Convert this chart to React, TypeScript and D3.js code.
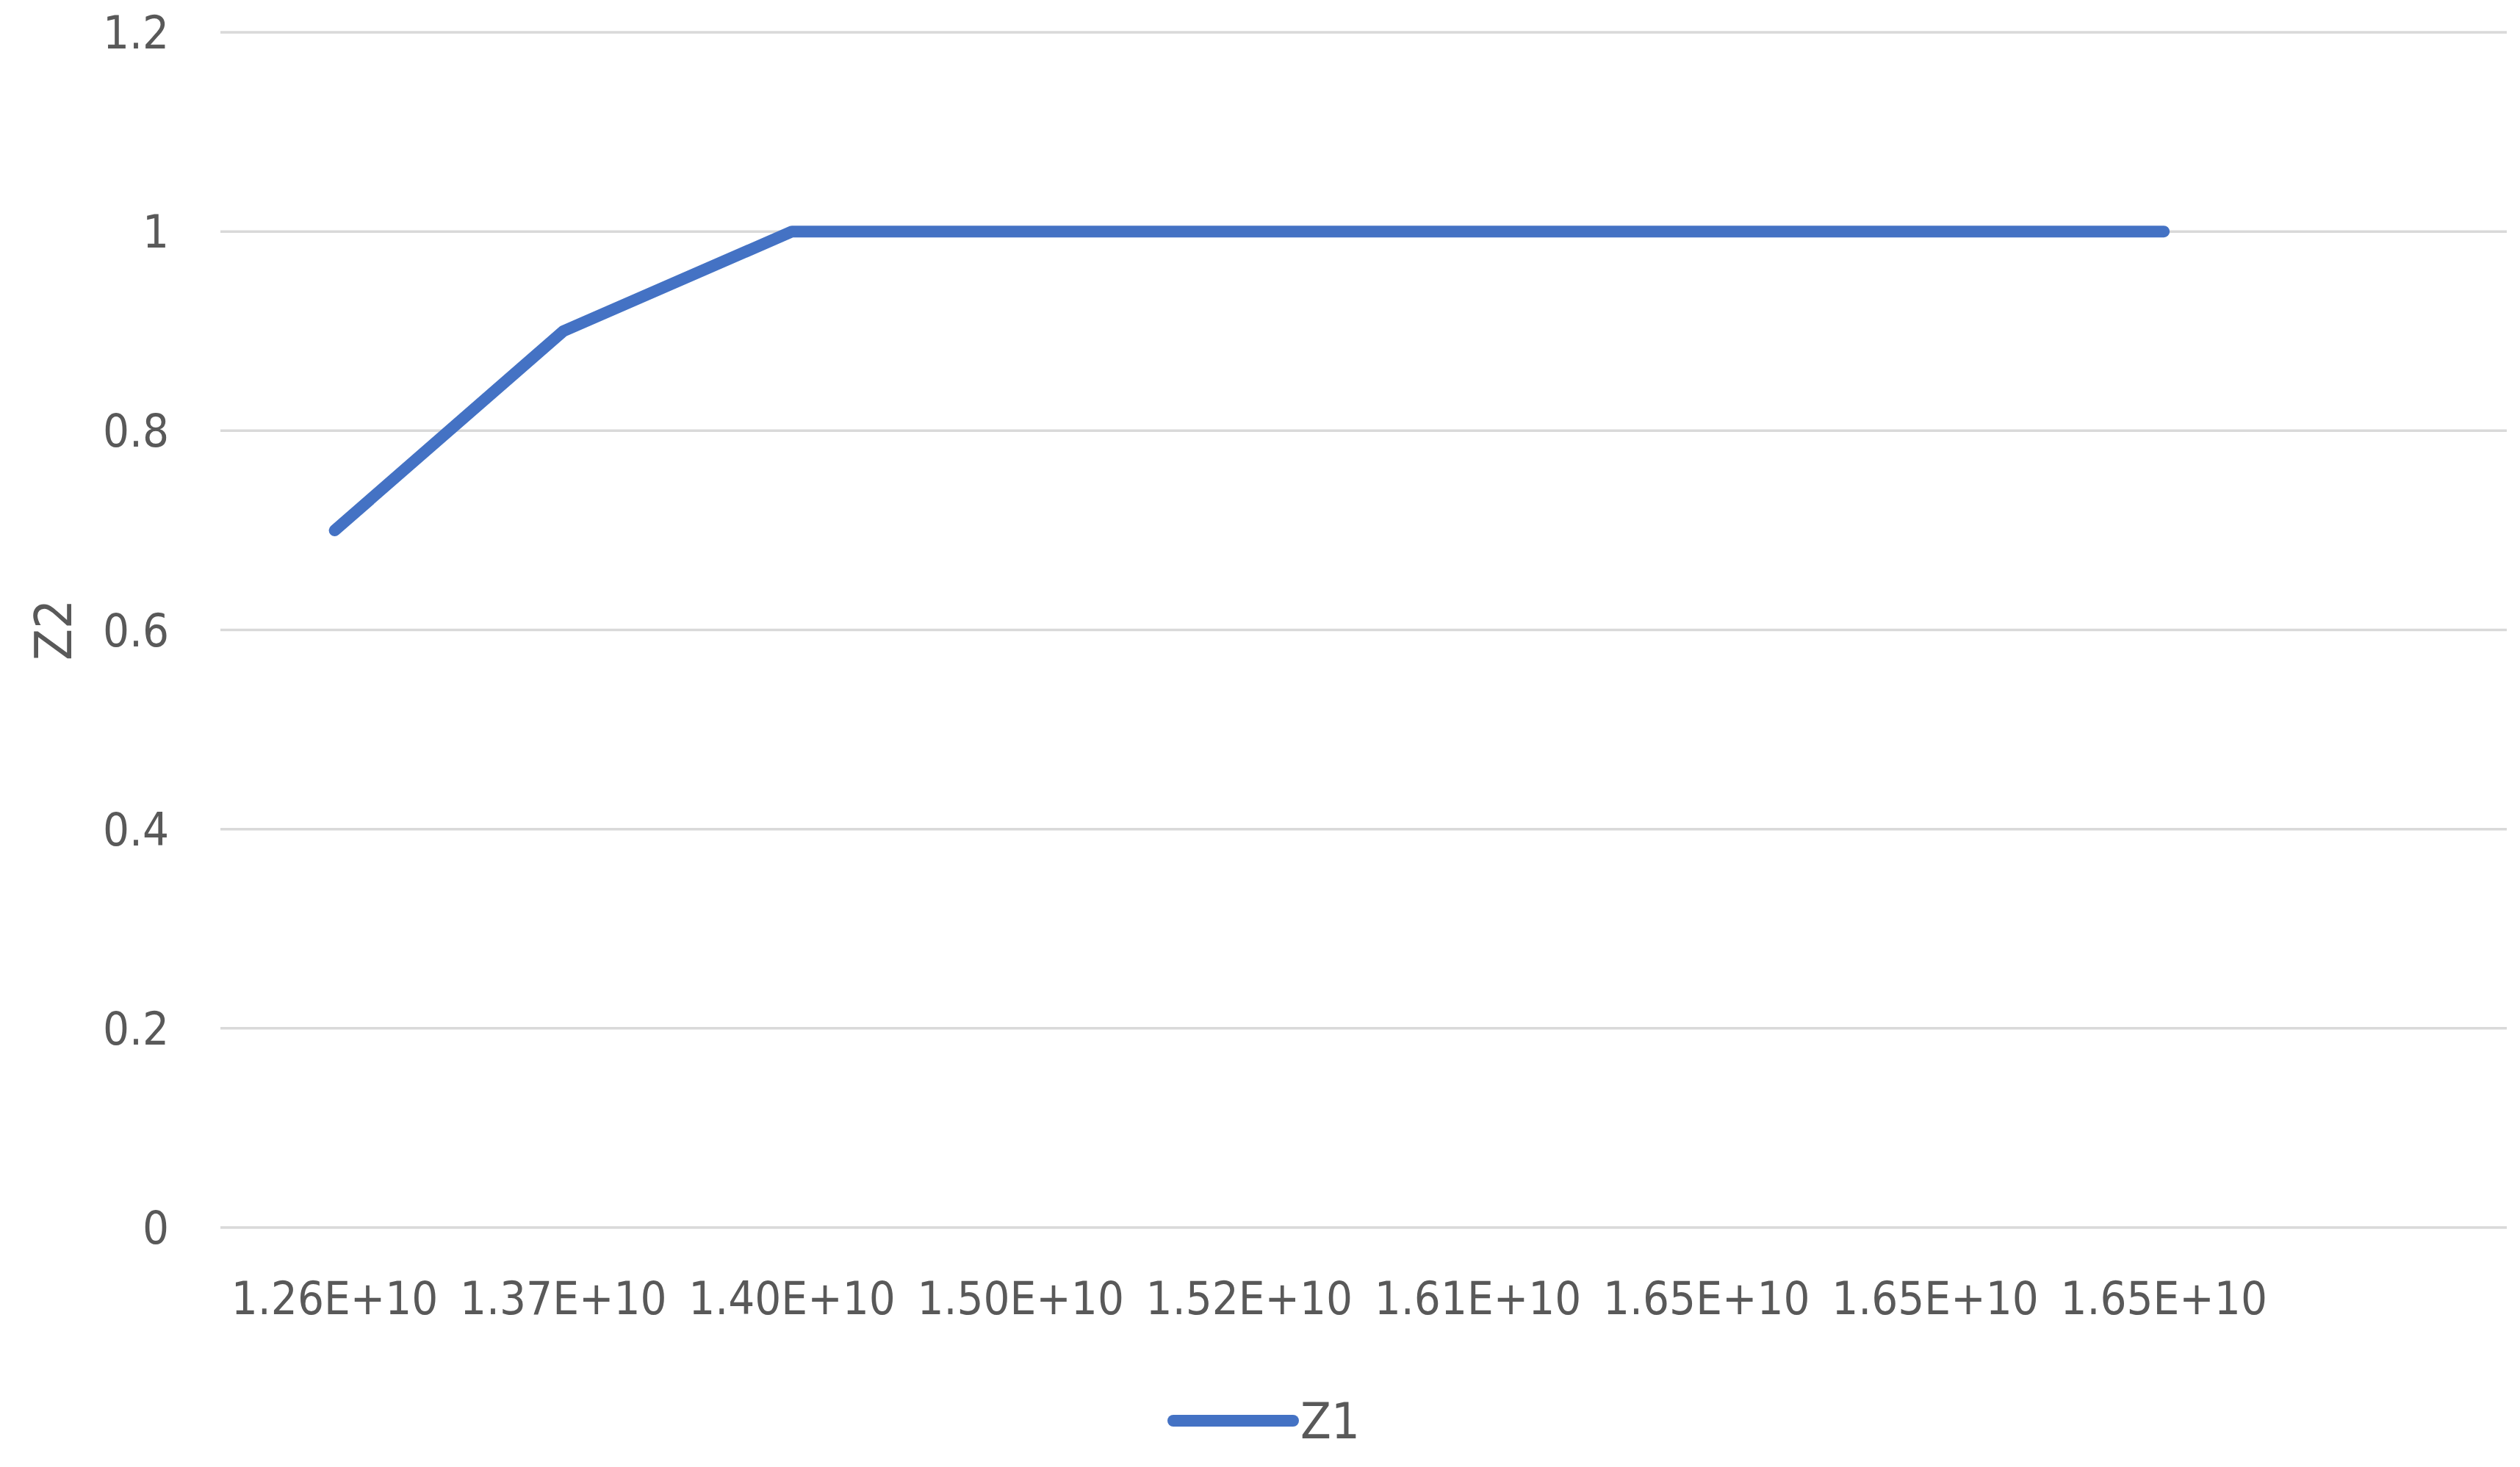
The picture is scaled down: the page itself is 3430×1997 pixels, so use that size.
import React, { useEffect, useRef } from 'react';
import * as d3 from 'd3';

// x categories (last slot is empty in the original chart)
const categories = [
  '1.26E+10', '1.37E+10', '1.40E+10', '1.50E+10', '1.52E+10',
  '1.61E+10', '1.65E+10', '1.65E+10', '1.65E+10', '',
];
const z1Values = [0.7, 0.9, 1, 1, 1, 1, 1, 1, 1];
const yTicks = [0, 0.2, 0.4, 0.6, 0.8, 1, 1.2];
const yTickLabels = ['0', '0.2', '0.4', '0.6', '0.8', '1', '1.2'];
const seriesName = 'Z1';
const yTitle = 'Z2';

const WIDTH = 3430;
const HEIGHT = 1997;
const FONT = "'DejaVu Sans Condensed', 'DejaVu Sans', sans-serif";
const TEXT = '#595959';
const BLUE = '#4472C4';

export default function App() {
  const ref = useRef<SVGSVGElement | null>(null);

  useEffect(() => {
    const svg = d3.select(ref.current);
    svg.selectAll('*').remove();

    const left = 300;
    const right = 3412;
    const top = 44;
    const bottom = 1671;

    const xScale = d3
      .scaleBand<number>()
      .domain(categories.map((d, i) => i))
      .range([left, right]);

    const yScale = d3.scaleLinear().domain([0, 1.2]).range([bottom, top]);

    // gridlines
    svg
      .selectAll('.grid')
      .data(yTicks)
      .enter()
      .append('line')
      .attr('class', 'grid')
      .attr('x1', left)
      .attr('x2', right)
      .attr('y1', (d) => yScale(d))
      .attr('y2', (d) => yScale(d))
      .attr('stroke', '#D9D9D9')
      .attr('stroke-width', 3.5);

    // y tick labels
    svg
      .selectAll('.ylab')
      .data(yTicks)
      .enter()
      .append('text')
      .attr('class', 'ylab')
      .attr('x', 230)
      .attr('y', (d) => yScale(d))
      .attr('dy', '0.35em')
      .attr('text-anchor', 'end')
      .attr('font-family', FONT)
      .attr('font-stretch', 'condensed')
      .attr('font-size', 63)
      .attr('fill', TEXT)
      .text((d, i) => yTickLabels[i]);

    // x tick labels
    svg
      .selectAll('.xlab')
      .data(categories)
      .enter()
      .append('text')
      .attr('class', 'xlab')
      .attr('x', (d, i) => (xScale(i) as number) + xScale.bandwidth() / 2)
      .attr('y', 1789)
      .attr('text-anchor', 'middle')
      .attr('font-family', FONT)
      .attr('font-stretch', 'condensed')
      .attr('font-size', 63)
      .attr('fill', TEXT)
      .text((d) => d);

    // y axis title
    svg
      .append('text')
      .attr('transform', `translate(97, ${(top + bottom) / 2}) rotate(-90)`)
      .attr('text-anchor', 'middle')
      .attr('font-family', FONT)
      .attr('font-stretch', 'condensed')
      .attr('font-size', 70)
      .attr('fill', TEXT)
      .text(yTitle);

    // the line
    const line = d3
      .line<number>()
      .x((d, i) => (xScale(i) as number) + xScale.bandwidth() / 2)
      .y((d) => yScale(d));

    svg
      .append('path')
      .datum(z1Values)
      .attr('d', line)
      .attr('fill', 'none')
      .attr('stroke', BLUE)
      .attr('stroke-width', 16)
      .attr('stroke-linecap', 'round')
      .attr('stroke-linejoin', 'round');

    // legend
    svg
      .append('line')
      .attr('x1', 1597)
      .attr('x2', 1760)
      .attr('y1', 1934)
      .attr('y2', 1934)
      .attr('stroke', BLUE)
      .attr('stroke-width', 16)
      .attr('stroke-linecap', 'round');

    svg
      .append('text')
      .attr('x', 1770)
      .attr('y', 1934)
      .attr('dy', '0.35em')
      .attr('font-family', FONT)
      .attr('font-stretch', 'condensed')
      .attr('font-size', 68)
      .attr('fill', TEXT)
      .text(seriesName);
  }, []);

  return (
    <div style={{ position: 'fixed', left: 0, top: 0 }}>
      <svg ref={ref} width={WIDTH} height={HEIGHT} style={{ display: 'block', background: '#fff' }} />
    </div>
  );
}
